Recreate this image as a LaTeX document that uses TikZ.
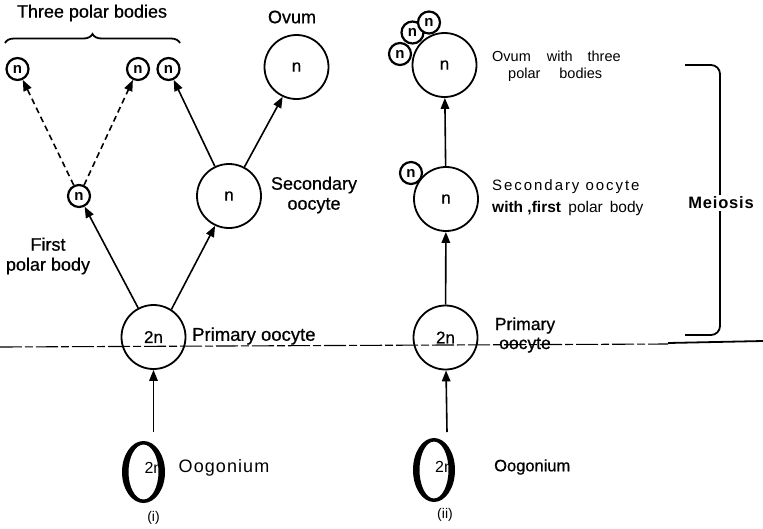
\documentclass[tikz,border=0pt]{standalone}
\usepackage{fontspec}
\setmainfont{Liberation Sans}
\newfontfamily\heavyfont[FakeBold=0.7]{Liberation Sans}
\usetikzlibrary{arrows.meta,decorations.pathreplacing}
\begin{document}
\begin{tikzpicture}[x=1pt,y=-1pt,
  cell/.style={circle,draw,line width=1.8pt,inner sep=0pt,minimum size=64pt,fill=white,font=\heavyfont\fontsize{17}{17}\selectfont},
  pb/.style={circle,draw,line width=2.2pt,inner sep=0pt,minimum size=22pt,fill=white,font=\bfseries\fontsize{15}{15}\selectfont},
  arr/.style={-{Triangle[length=11pt,width=8.5pt]},line width=1.6pt},
  darr/.style={arr,dash pattern=on 6pt off 4pt},
  lbl/.style={font=\heavyfont\fontsize{18}{20}\selectfont,align=center,inner sep=0pt},
  rl/.style={font=\fontsize{14.5}{17}\selectfont,inner sep=0pt,anchor=west},
  oog/.style={fill=black,even odd rule},
  small/.style={font=\fontsize{14}{14}\selectfont,inner sep=0pt}]
\useasboundingbox (0,0) rectangle (763,528);

% ---------- left column (i)
\node[cell] (P1) at (153.5,337) {2n};
\node[cell] (S1) at (229,196) {n};
\node[pb] (F1) at (79,196) {n};
\node[pb] (A1) at (17.5,69) {n};
\node[pb] (B1) at (138,69) {n};
\node[pb] (C1) at (168.5,69) {n};
\node[cell] (O1) at (296.5,67) {n};
\node[small,font=\fontsize{16}{16}\selectfont] (n1) at (153.5,468) {2n};
\path[oog] (143.5,472) ellipse [x radius=21.5pt, y radius=31pt]
           (143.5,472) ellipse [x radius=15pt, y radius=27.5pt];
\coordinate (g1top) at (153.5,432);

\draw[arr] (P1) -- (F1);
\draw[arr] (P1.57) -- (S1.245);
\draw[darr] (F1) -- (A1);
\draw[darr] (F1) -- (B1);
\draw[arr] (S1) -- (C1);
\draw[arr] (S1.62) -- (O1.245);
\draw[arr] (g1top) -- (P1);

\node[lbl,anchor=west,font=\heavyfont\fontsize{18.5}{20}\selectfont] (tP1) at (192,336) {Primary oocyte};
\node[lbl] (tS1) at (314,195) {Secondary\\oocyte};
\node[lbl] (tF1) at (48,256) {First\\polar body};
\node[lbl] (tO1) at (292,17) {Ovum};
\node[lbl] (t3) at (92,13) {Three polar bodies};
\draw[line width=1.8pt,decorate,decoration={brace,amplitude=9pt}] (5,43) -- (180,43);
\node[small,font={\fontsize{18}{18}\selectfont\addfontfeature{LetterSpace=6}}] (tG1) at (224,468) {Oogonium};
\node[small] (ti) at (153.5,518) {(i)};

% ---------- right column (ii)
\node[cell] (P2) at (445.5,337.5) {2n};
\node[cell] (S2) at (446,199) {n};
\node[pb] (F2) at (411,173) {n};
\node[cell] (O2) at (444.5,65) {n};
\node[pb] (D2) at (400,54) {n};
\node[pb] (E2) at (412.5,32.5) {n};
\node[pb] (H2) at (429,22.5) {n};
\node[small,font=\fontsize{16}{16}\selectfont] (n2) at (444,467) {2n};
\path[oog] (434,470) ellipse [x radius=21pt, y radius=32pt]
           (434,470) ellipse [x radius=14.5pt, y radius=28.5pt];
\coordinate (g2top) at (447,432);

\draw[arr] (g2top) -- (P2);
\draw[arr] (P2) -- (S2);
\draw[arr] (S2) -- (O2);

\node[rl] (tO2a) at (492,56) {Ovum\hspace{16pt}with\hspace{15pt}three};
\node[rl] (tO2b) at (508,75) {polar\hspace{19pt}bodies};
\node[rl,font={\fontsize{15}{17}\selectfont\addfontfeature{LetterSpace=13}}] (tS2a) at (492,187) {Secondary oocyte};
\node[rl,font=\fontsize{15.5}{17}\selectfont] (tS2b) at (492,208) {\textbf{with ,first} \hspace{3pt}polar\hspace{7pt}body};
\node[lbl,font=\heavyfont\fontsize{17.5}{19}\selectfont] (tP2) at (525,335) {Primary\\oocyte};
\node[rl,font=\heavyfont\fontsize{16.5}{16}\selectfont] (tG2) at (494,467) {Oogonium};
\node[small] (tii) at (445,515) {(ii)};

% ---------- bracket and divider
\draw[line width=1.8pt,rounded corners=9pt] (685,65) -- (720,65) -- (720,335) -- (685,335);
\node[fill=white,inner sep=2pt,font={\fontsize{16.5}{16}\selectfont\bfseries\addfontfeature{LetterSpace=5}}] (mei) at (721,203) {Meiosis};
\draw[line width=1.1pt,dash pattern=on 22pt off 3pt on 8pt off 3pt] (0,347) -- (668,344);
\draw[line width=1.8pt] (668,343) -- (763,341);
\end{tikzpicture}
\end{document}
